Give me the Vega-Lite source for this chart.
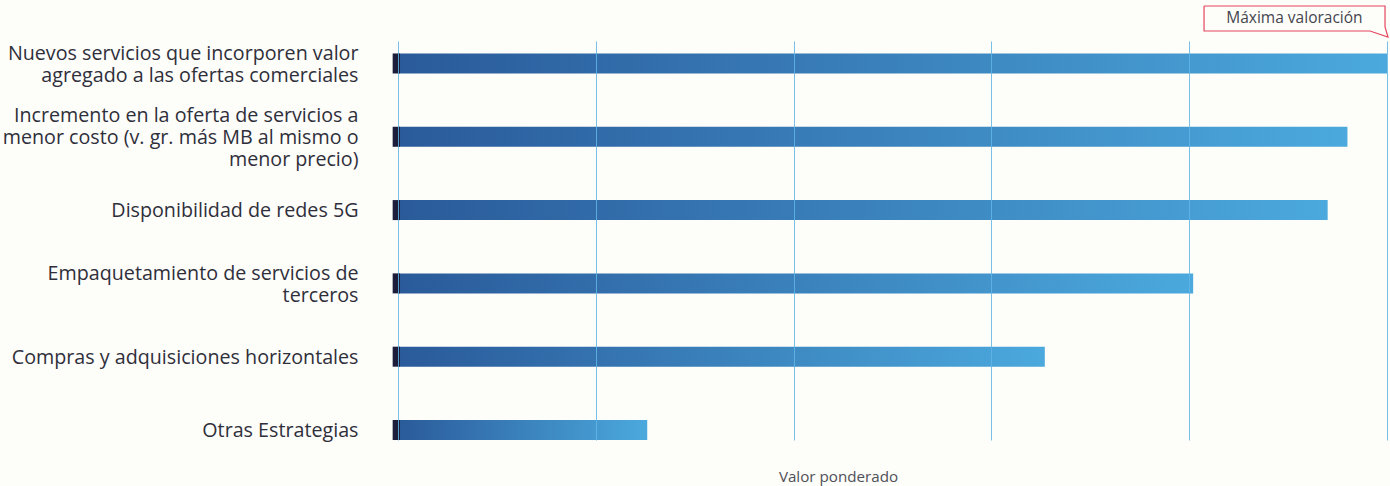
{
  "$schema": "https://vega.github.io/schema/vega-lite/v6.json",
  "autosize": {"type": "none"},
  "width": 989,
  "height": 399,
  "padding": {"left": 398, "top": 41, "right": 3, "bottom": 46},
  "background": "#fdfdf9",
  "config": {"view": {"stroke": null}, "font": "Open Sans"},
  "datasets": {
    "estrategias": [
      {"estrategia": "Nuevos servicios que incorporen valor|agregado a las ofertas comerciales", "valor": 5.0},
      {"estrategia": "Incremento en la oferta de servicios a|menor costo (v. gr. más MB al mismo o|menor precio)", "valor": 4.80},
      {"estrategia": "Disponibilidad de redes 5G", "valor": 4.70},
      {"estrategia": "Empaquetamiento de servicios de|terceros", "valor": 4.02},
      {"estrategia": "Compras y adquisiciones horizontales", "valor": 3.27},
      {"estrategia": "Otras Estrategias", "valor": 1.26}
    ],
    "callout": [
      {"ord": 1, "ax": 4.075, "ay": 1.0877},
      {"ord": 2, "ax": 4.990, "ay": 1.0877},
      {"ord": 3, "ax": 4.990, "ay": 1.0351},
      {"ord": 4, "ax": 5.005, "ay": 1.0100},
      {"ord": 5, "ax": 4.914, "ay": 1.0251},
      {"ord": 6, "ax": 4.075, "ay": 1.0251},
      {"ord": 7, "ax": 4.075, "ay": 1.0877}
    ],
    "nota": [
      {"texto": "Máxima valoración", "tx": 4.532, "ty": 1.0576}
    ]
  },
  "layer": [
    {
      "data": {"name": "estrategias"},
      "encoding": {
        "y": {
          "field": "estrategia",
          "type": "nominal",
          "sort": null,
          "scale": {"paddingInner": 0.727, "paddingOuter": 0.085, "align": 1},
          "axis": {
            "title": null,
            "ticks": false,
            "domain": false,
            "grid": false,
            "labelPadding": 40,
            "labelFontSize": 19.7,
            "labelFont": "Open Sans",
            "labelColor": "#2f2f3b",
            "labelLimit": 0,
            "labelLineHeight": 22,
            "labelAlign": "right",
            "labelBaseline": "middle",
            "labelOffset": {
              "condition": [
                {"test": "length(split(datum.value, '|')) == 3", "value": -20.5},
                {"test": "length(split(datum.value, '|')) == 2", "value": -9.5}
              ],
              "value": 1
            },
            "labelExpr": "split(datum.label, '|')"
          }
        }
      },
      "layer": [
        {
          "mark": {
            "type": "bar",
            "color": {
              "gradient": "linear",
              "x1": 0, "x2": 1, "y1": 0, "y2": 0,
              "stops": [
                {"offset": 0, "color": "#2a5a9a"},
                {"offset": 1, "color": "#4ba9dd"}
              ]
            }
          },
          "encoding": {
            "x": {
              "field": "valor",
              "type": "quantitative",
              "scale": {"domain": [0, 5], "nice": false, "zero": true},
              "axis": {
                "values": [0, 1, 2, 3, 4, 5],
                "grid": true,
                "gridColor": "#62b5e6",
                "gridOpacity": 0.85,
                "gridWidth": 1,
                "labels": false,
                "ticks": false,
                "domain": false,
                "zindex": 1,
                "title": "Valor ponderado",
                "titleFont": "Open Sans",
                "titleFontSize": 15.2,
                "titleFontWeight": "normal",
                "titleColor": "#505058",
                "titlePadding": 29,
                "titleX": 440
              }
            }
          }
        },
        {
          "mark": {"type": "bar", "color": "#1c1d3b"},
          "encoding": {
            "x": {"datum": -0.027, "type": "quantitative"},
            "x2": {"datum": 0.01}
          }
        }
      ]
    },
    {
      "layer": [
        {
          "data": {"name": "callout"},
          "mark": {"type": "line", "color": "#e5475f", "strokeWidth": 1.2},
          "encoding": {
            "x": {"field": "ax", "type": "quantitative"},
            "y": {"field": "ay", "type": "quantitative", "scale": {"domain": [0, 1], "nice": false, "zero": true}, "axis": null},
            "order": {"field": "ord", "type": "quantitative"}
          }
        },
        {
          "data": {"name": "nota"},
          "mark": {"type": "text", "font": "Open Sans", "fontSize": 15.5, "color": "#45454f", "align": "center", "baseline": "middle"},
          "encoding": {
            "x": {"field": "tx", "type": "quantitative"},
            "y": {"field": "ty", "type": "quantitative", "axis": null},
            "text": {"field": "texto"}
          }
        }
      ]
    }
  ],
  "resolve": {"scale": {"y": "independent"}, "axis": {"y": "independent"}}
}
